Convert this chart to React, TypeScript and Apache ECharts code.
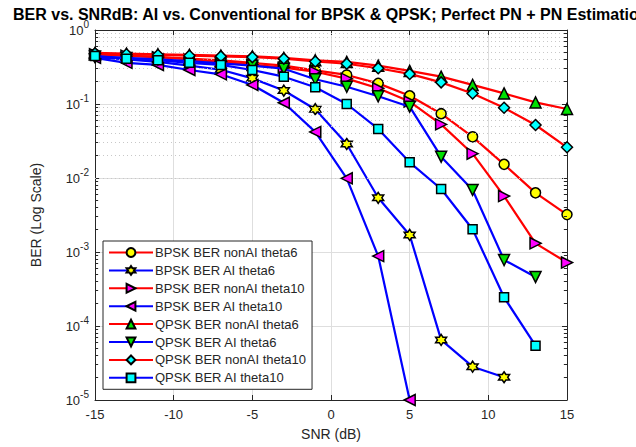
import React, { useEffect, useRef } from "react";
import * as echarts from "echarts";

const SNR = [-15, -13, -11, -9, -7, -5, -3, -1, 1, 3, 5, 7, 9, 11, 13, 15];

const bpskNonAiTheta6 = [0.47, 0.45, 0.43, 0.41, 0.39, 0.36, 0.33, 0.285, 0.247, 0.19, 0.129, 0.074, 0.036, 0.0153, 0.0063, 0.0032];
const bpskAiTheta6 = [0.43, 0.4, 0.37, 0.33, 0.29, 0.222, 0.152, 0.085, 0.0288, 0.0054, 0.0017, 0.0000649, 0.0000282, 0.0000203];
const bpskNonAiTheta10 = [0.47, 0.45, 0.43, 0.4, 0.37, 0.34, 0.31, 0.273, 0.22, 0.163, 0.108, 0.053, 0.0213, 0.0057, 0.00131, 0.00072];
const bpskAiTheta10 = [0.42, 0.36, 0.337, 0.288, 0.252, 0.181, 0.104, 0.042, 0.0099, 0.00088, 0.00001];
const qpskNonAiTheta6 = [0.49, 0.48, 0.47, 0.46, 0.45, 0.44, 0.42, 0.39, 0.37, 0.33, 0.28, 0.234, 0.181, 0.139, 0.105, 0.0855];
const qpskAiTheta6 = [0.44, 0.42, 0.4, 0.38, 0.355, 0.33, 0.3, 0.216, 0.171, 0.127, 0.092, 0.0194, 0.0069, 0.00078, 0.00046];
const qpskNonAiTheta10 = [0.48, 0.47, 0.46, 0.45, 0.44, 0.43, 0.41, 0.375, 0.35, 0.304, 0.255, 0.196, 0.139, 0.089, 0.052, 0.026];
const qpskAiTheta10 = [0.445, 0.41, 0.39, 0.36, 0.337, 0.288, 0.234, 0.168, 0.1, 0.046, 0.0163, 0.0071, 0.00203, 0.000244, 0.0000542];

const SERIES_NAMES = [
  "BPSK BER nonAI theta6",
  "BPSK BER AI theta6",
  "BPSK BER nonAI theta10",
  "BPSK BER AI theta10",
  "QPSK BER nonAI theta6",
  "QPSK BER AI theta6",
  "QPSK BER nonAI theta10",
  "QPSK BER AI theta10",
];

const X_MIN = -15;
const X_MAX = 15;
const X_INTERVAL = 5;
const Y_MIN = 1e-5;
const Y_MAX = 1;
const DECADES = [1e-5, 1e-4, 1e-3, 1e-2, 1e-1];
const MINOR_MULT = [2, 3, 4, 5, 6, 7, 8, 9];

const TITLE = "BER vs. SNRdB: AI vs. Conventional for BPSK & QPSK; Perfect PN + PN Estimation";
const X_NAME = "SNR (dB)";
const Y_NAME = "BER (Log Scale)";

const FONT = "Liberation Sans, Arial, Helvetica, sans-serif";
const TXT = "#262626";
const HEXAGRAM =
  "path://M100,0 L128.9,50 L186.6,50 L157.7,100 L186.6,150 L128.9,150 L100,200 L71.1,150 L13.4,150 L42.3,100 L13.4,50 L71.1,50 Z";

function pairs(vals: number[]) {
  return vals.map((v, i) => [SNR[i], v]);
}

export default function App() {
  const ref = useRef<HTMLDivElement>(null);
  useEffect(() => {
    document.body.style.margin = "0";
    const chart = echarts.init(ref.current!, undefined, { renderer: "svg" });

    const styles = [
      { data: bpskNonAiTheta6, line: "#ff0000", fill: "#ffff00", symbol: "circle", rot: 0 },
      { data: bpskAiTheta6, line: "#0000ff", fill: "#ffff00", symbol: HEXAGRAM, rot: 0 },
      { data: bpskNonAiTheta10, line: "#ff0000", fill: "#ff00ff", symbol: "triangle", rot: -90 },
      { data: bpskAiTheta10, line: "#0000ff", fill: "#ff00ff", symbol: "triangle", rot: 90 },
      { data: qpskNonAiTheta6, line: "#ff0000", fill: "#00e000", symbol: "triangle", rot: 0 },
      { data: qpskAiTheta6, line: "#0000ff", fill: "#00e000", symbol: "triangle", rot: 180 },
      { data: qpskNonAiTheta10, line: "#ff0000", fill: "#00ffff", symbol: "diamond", rot: 0 },
      { data: qpskAiTheta10, line: "#0000ff", fill: "#00ffff", symbol: "rect", rot: 0 },
    ];

    const minorVals: number[] = [];
    DECADES.forEach((d) => MINOR_MULT.forEach((m) => minorVals.push(d * m)));

    const dataSeries = styles.map((s, i) => ({
      name: SERIES_NAMES[i],
      type: "line",
      data: pairs(s.data),
      symbol: s.symbol,
      symbolSize: s.symbol === "rect" ? 9 : s.symbol === "circle" ? 10 : 11,
      symbolRotate: s.rot,
      showAllSymbol: true,
      clip: false,
      z: 3 + i,
      lineStyle: { color: s.line, width: 2.2 },
      itemStyle: { color: s.fill, borderColor: "#000000", borderWidth: 1.5 },
      emphasis: { disabled: true },
    }));

    const minorSeries = {
      name: "minor",
      type: "line",
      data: [],
      z: 1,
      silent: true,
      markLine: {
        silent: true,
        symbol: ["none", "none"],
        label: { show: false },
        lineStyle: { type: [1, 3], color: "#c8c8c8", width: 1 },
        data: minorVals.map((v) => ({ yAxis: v })),
      },
    };

    const tickSeries = {
      name: "minorTicks",
      type: "line",
      data: [],
      z: 2,
      silent: true,
      markLine: {
        silent: true,
        symbol: ["none", "none"],
        label: { show: false },
        lineStyle: { type: "solid", color: TXT, width: 1 },
        data: [
          ...minorVals.map((v) => [{ coord: [X_MIN, v] }, { coord: [X_MIN + 0.2, v] }]),
          ...minorVals.map((v) => [{ coord: [X_MAX - 0.2, v] }, { coord: [X_MAX, v] }]),
        ],
      },
    };

    const yLabel = (v: number) => `{b|10}{e|${Math.round(Math.log10(v))}}`;

    chart.setOption({
      animation: false,
      backgroundColor: "#ffffff",
      textStyle: { fontFamily: FONT },
      title: {
        text: TITLE,
        left: 13,
        top: 6,
        padding: 0,
        textStyle: { fontFamily: FONT, fontSize: 16, fontWeight: "bold", color: "#000000" },
      },
      grid: { left: 95, right: 69, top: 30, bottom: 47, containLabel: false },
      legend: {
        data: SERIES_NAMES,
        orient: "vertical",
        left: 103,
        top: 241,
        itemWidth: 44,
        itemHeight: 11,
        itemGap: 4.9,
        padding: [5, 6, 5, 5],
        backgroundColor: "#ffffff",
        borderColor: "#262626",
        borderWidth: 1,
        borderRadius: 0,
        textStyle: { fontFamily: FONT, fontSize: 13, color: TXT, padding: [0, 0, 0, -3] },
        selectedMode: false,
      },
      xAxis: [
        {
          type: "value",
          min: X_MIN,
          max: X_MAX,
          interval: X_INTERVAL,
          name: X_NAME,
          nameLocation: "middle",
          nameGap: 27,
          nameTextStyle: { fontFamily: FONT, fontSize: 14, color: TXT },
          axisLine: { show: true, onZero: false, lineStyle: { color: TXT, width: 1 } },
          axisTick: { show: true, inside: true, length: 5, lineStyle: { color: TXT } },
          axisLabel: { fontFamily: FONT, fontSize: 13, color: TXT, margin: 8 },
          splitLine: { show: true, lineStyle: { color: "#dedede", width: 1 } },
        },
        {
          type: "value",
          position: "top",
          min: X_MIN,
          max: X_MAX,
          interval: X_INTERVAL,
          axisLine: { show: true, onZero: false, lineStyle: { color: TXT, width: 1 } },
          axisTick: { show: true, inside: true, length: 5, lineStyle: { color: TXT } },
          axisLabel: { show: false },
          splitLine: { show: false },
        },
      ],
      yAxis: [
        {
          type: "log",
          logBase: 10,
          min: Y_MIN,
          max: Y_MAX,
          name: Y_NAME,
          nameLocation: "middle",
          nameGap: 52,
          nameTextStyle: { fontFamily: FONT, fontSize: 14, color: TXT },
          axisLine: { show: true, onZero: false, lineStyle: { color: TXT, width: 1 } },
          axisTick: { show: true, inside: true, length: 5, lineStyle: { color: TXT } },
          axisLabel: {
            formatter: yLabel,
            margin: 6,
            rich: {
              b: { fontFamily: FONT, fontSize: 13, color: TXT, lineHeight: 22 },
              e: { fontFamily: FONT, fontSize: 10, color: TXT, verticalAlign: "top", lineHeight: 11 },
            },
          },
          splitLine: { show: true, lineStyle: { color: "#dedede", width: 1 } },
        },
        {
          type: "log",
          logBase: 10,
          min: Y_MIN,
          max: Y_MAX,
          position: "right",
          axisLine: { show: true, onZero: false, lineStyle: { color: TXT, width: 1 } },
          axisTick: { show: true, inside: true, length: 5, lineStyle: { color: TXT } },
          axisLabel: { show: false },
          splitLine: { show: false },
        },
      ],
      series: [minorSeries, tickSeries, ...dataSeries],
    });
    return () => chart.dispose();
  }, []);
  return <div ref={ref} style={{ position: "fixed", left: 0, top: 0, width: 636, height: 447 }} />;
}
